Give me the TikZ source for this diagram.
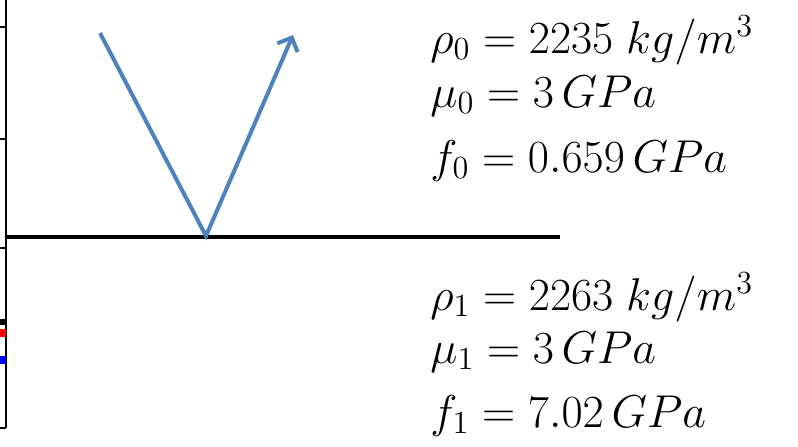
\RequirePackage{fix-cm}
\documentclass[tikz,border=0pt]{standalone}
\usepackage{amsmath}
\usetikzlibrary{arrows.meta}

\begin{document}
\begin{tikzpicture}[
  x=0.5pt, y=-0.5pt,
  axis/.style={line width=1pt, black},
  iface/.style={line width=2pt, black},
  ray/.style={line width=2pt, draw={rgb,255:red,79;green,129;blue,189}, line join=miter},
  arr/.style={-{Straight Barb[length=5.5pt, width=11pt]}},
  prop/.style={anchor=base west, inner sep=0pt, font=\fontsize{23}{27}\selectfont}
]
\useasboundingbox (0,0) rectangle (798,446);

% cut-off axis on the left
\draw[axis] (6,0) -- (6,428);
\foreach \ty in {27,139,248,428} \draw[axis] (0,\ty) -- (6,\ty);
\fill[black] (0,319) rectangle (6,325);
\fill[red] (0,329) rectangle (6,337);
\fill[blue] (0,356) rectangle (6,364);

% interface
\coordinate (ifl) at (6,237);
\coordinate (ifr) at (560,237);
\draw[iface] (ifl) -- (ifr);

% incident and reflected ray
\coordinate (src) at (100,33);
\coordinate (hit) at (206,236);
\coordinate (out) at (293,35);
\draw[ray, arr] (src) -- (hit) -- (out);

% upper medium
\node[prop] (rho0) at (430,53)  {$\rho_0 = 2235\;kg/m^3$};
\node[prop] (mu0)  at (430,107) {$\mu_0 = 3\,GPa$};
\node[prop] (f0)   at (430,172) {$f_0 = 0.659\,GPa$};

% lower medium
\node[prop] (rho1) at (430,310) {$\rho_1 = 2263\;kg/m^3$};
\node[prop] (mu1)  at (430,363) {$\mu_1 = 3\,GPa$};
\node[prop] (f1)   at (430,427) {$f_1 = 7.02\,GPa$};
\end{tikzpicture}
\end{document}
